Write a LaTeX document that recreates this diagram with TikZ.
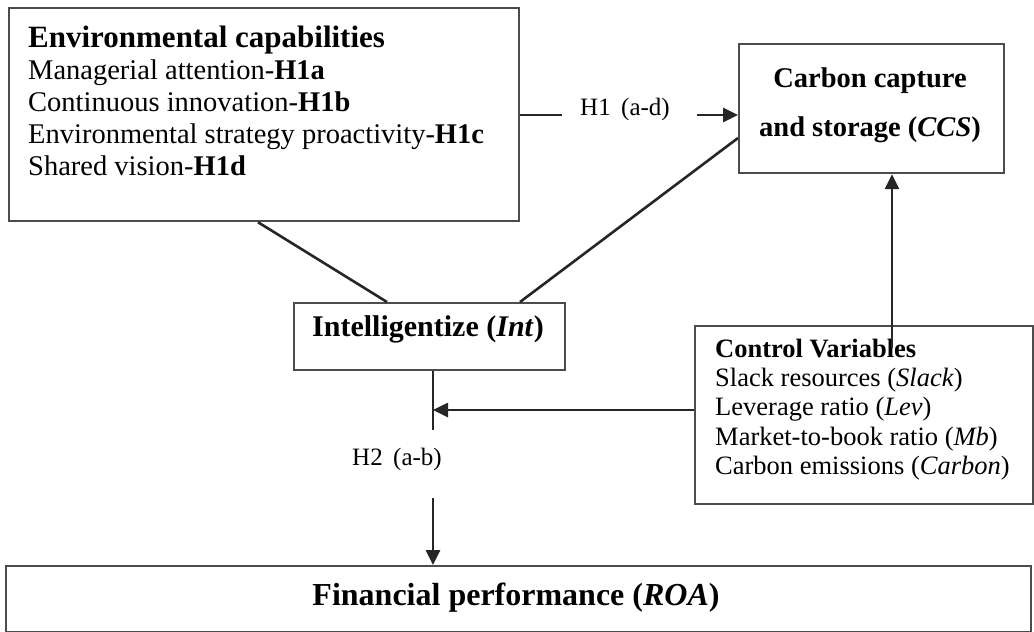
\documentclass[tikz,border=0pt]{standalone}
\usepackage{fontspec}
\setmainfont{Liberation Serif}
\usetikzlibrary{arrows.meta,calc}
\begin{document}
\begin{tikzpicture}[x=1pt,y=-1pt,
  box/.style={draw=black!70,line width=2.2pt,inner sep=0pt,anchor=north west},
  conn/.style={draw=black!85,line width=2.6pt},
  arr/.style={conn,-{Triangle[length=15pt,width=14pt]}},
  lab/.style={inner sep=0pt,font=\fontsize{25}{28}\selectfont}
]
\useasboundingbox (0,0) rectangle (1034,632);
% boxes
\node[box,minimum width=510,minimum height=213] (env) at (8,7) {};
\node[inner sep=0pt,anchor=north west,align=left,font=\fontsize{28.5}{32}\selectfont] (envtxt) at (28,26)
  {{\fontsize{31}{32}\selectfont\bfseries Environmental capabilities}\\
   Managerial attention-\textbf{H1a}\\
   Continuous innovation-\textbf{H1b}\\
   Environmental strategy proactivity-\textbf{H1c}\\
   Shared vision-\textbf{H1d}};
\node[box,minimum width=265,minimum height=129] (ccs) at (738,43) {};
\node[inner sep=0pt,align=center,font=\fontsize{28.5}{49}\selectfont\bfseries] (ccstxt) at (870,105)
  {Carbon capture\\and storage (\textit{CCS})};
\node[box,minimum width=271,minimum height=67] (int) at (293,302) {};
\node[inner sep=0pt,font=\fontsize{30}{32}\selectfont\bfseries] (inttxt) at (428,329) {Intelligentize (\textit{Int})};
\node[box,minimum width=338,minimum height=178] (ctrl) at (694,325) {};
\node[inner sep=0pt,anchor=north west,align=left,font=\fontsize{26.5}{29.2}\selectfont] (ctrltxt) at (715,339)
  {\textbf{Control Variables}\\
   Slack resources (\textit{Slack})\\
   Leverage ratio (\textit{Lev})\\
   Market-to-book ratio (\textit{Mb})\\
   Carbon emissions (\textit{Carbon})};
\node[box,minimum width=1025,minimum height=66] (roa) at (5,565) {};
\node[inner sep=0pt,font=\fontsize{32}{34}\selectfont\bfseries] (roatxt) at (516,598) {Financial performance (\textit{ROA})};
% labels
\node[lab] (h1) at (625,109) {H1 \,(a-d)};
\node[lab] (h2) at (397,459) {H2 \,(a-b)};
% coordinates
\coordinate (h1s) at (562,115);
\coordinate (h1e) at (697,115);
\coordinate (vjoin) at (433,410);
\coordinate (vend) at (433,430);
\coordinate (vstart) at (433,498);
\coordinate (cv) at (892,348);
% connectors
\draw[conn] (h1s -| env.east) -- (h1s);
\draw[arr] (h1e) -- (h1e -| ccs.west);
\draw[conn] ([xshift=250pt]env.south west) -- ([xshift=94pt]int.north west);
\draw[conn] ([xshift=227pt]int.north west) -- ([yshift=-95pt]ccs.north west);
\draw[conn] (vend |- int.south) -- (vend);
\draw[arr] (vjoin -| ctrl.west) -- (vjoin);
\draw[arr] (vstart) -- (vstart |- roa.north);
\draw[arr] (cv) -- (cv |- ccs.south);
\end{tikzpicture}
\end{document}
